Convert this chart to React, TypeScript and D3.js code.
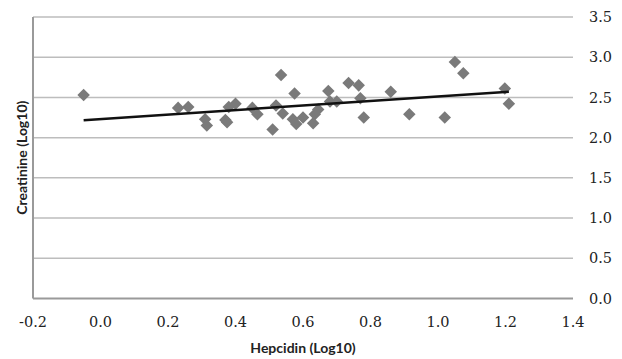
import React from "react";
import * as d3 from "d3";

// hepcidin (log10) values
const hepcidin = [
  -0.05, 0.23, 0.26, 0.31, 0.315, 0.37, 0.375, 0.38, 0.4, 0.45, 0.465, 0.51,
  0.52, 0.535, 0.54, 0.575, 0.57, 0.58, 0.6, 0.63, 0.635, 0.645, 0.675, 0.68,
  0.7, 0.735, 0.765, 0.77, 0.78, 0.86, 0.915, 1.02, 1.05, 1.075, 1.198, 1.21,
];
// creatinine (log10) values, same order
const creatinine = [
  2.53, 2.37, 2.38, 2.23, 2.15, 2.22, 2.19, 2.38, 2.42, 2.37, 2.29, 2.1,
  2.4, 2.78, 2.3, 2.55, 2.23, 2.17, 2.25, 2.18, 2.29, 2.35, 2.58, 2.45,
  2.45, 2.68, 2.65, 2.49, 2.25, 2.57, 2.29, 2.25, 2.94, 2.8, 2.61, 2.42,
];
const xTicks = [-0.2, 0, 0.2, 0.4, 0.6, 0.8, 1.0, 1.2, 1.4];
const yTicks = [0, 0.5, 1.0, 1.5, 2.0, 2.5, 3.0, 3.5];

const width = 622;
const height = 359;
const left = 33;
const right = 573;
const top = 17;
const bottom = 298.5;

const App = () => {
  const x = d3.scaleLinear().domain([-0.2, 1.4]).range([left, right]);
  const y = d3.scaleLinear().domain([0, 3.5]).range([bottom, top]);

  const points = hepcidin.map((h, i) => ({ h, c: creatinine[i] }));

  // least squares trend line
  const mx = d3.mean(hepcidin) as number;
  const my = d3.mean(creatinine) as number;
  let sxy = 0;
  let sxx = 0;
  points.forEach((p) => {
    sxy += (p.h - mx) * (p.c - my);
    sxx += (p.h - mx) * (p.h - mx);
  });
  const slope = sxy / sxx;
  const icpt = my - slope * mx;
  const [x0, x1] = d3.extent(hepcidin) as [number, number];
  const trend = d3
    .line<number>()
    .x((d) => x(d))
    .y((d) => y(icpt + slope * d))([x0, x1]);

  const diamond = d3.symbol().type(d3.symbolDiamond2).size(100)();

  return (
    <svg
      width={width}
      height={height}
      style={{ position: "absolute", left: 0, top: 0, background: "#fff" }}
    >
      {yTicks.map((t) => (
        <g key={t}>
          {t > 0 && (
            <line
              x1={left}
              x2={right}
              y1={y(t)}
              y2={y(t)}
              stroke="#bdbdbd"
              strokeWidth={1.5}
            />
          )}
          <text
            x={589}
            y={y(t)}
            dy="0.35em"
            fontFamily="'DejaVu Serif', serif"
            fontSize={14.5}
            fill="#222"
          >
            {t.toFixed(1)}
          </text>
        </g>
      ))}
      <line x1={left} x2={right} y1={bottom} y2={bottom} stroke="#9a9a9a" strokeWidth={2} />
      <line x1={left} x2={left} y1={top} y2={bottom} stroke="#9a9a9a" strokeWidth={2} />
      {xTicks.map((t) => (
        <text
          key={t}
          x={x(t)}
          y={322}
          dy="0.35em"
          textAnchor="middle"
          fontFamily="'DejaVu Serif', serif"
          fontSize={14.5}
          fill="#222"
        >
          {t.toFixed(1)}
        </text>
      ))}
      {points.map((p, i) => (
        <path
          key={i}
          d={diamond as string}
          transform={`translate(${x(p.h)},${y(p.c)})`}
          fill="#7a7a7a"
        />
      ))}
      <path d={trend as string} stroke="#111" strokeWidth={2.5} fill="none" />
      <text
        x={(left + right) / 2}
        y={348}
        dy="0.35em"
        textAnchor="middle"
        fontFamily="Lato, sans-serif"
        fontWeight="bold"
        fontSize={14}
        fill="#222"
      >
        Hepcidin (Log10)
      </text>
      <text
        transform={`translate(22,${(top + bottom) / 2}) rotate(-90)`}
        dy="0.35em"
        textAnchor="middle"
        fontFamily="Lato, sans-serif"
        fontWeight="bold"
        fontSize={14}
        fill="#222"
      >
        Creatinine (Log10)
      </text>
    </svg>
  );
};

export default App;
